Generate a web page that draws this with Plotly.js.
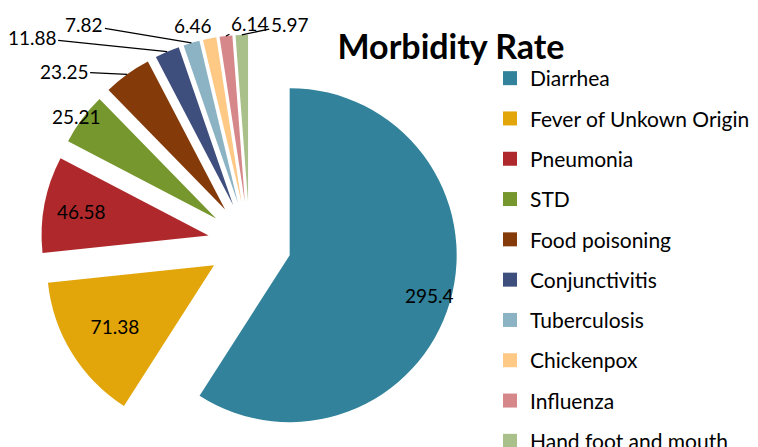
<!DOCTYPE html>
<html><head><meta charset="utf-8">
<script src="https://cdn.plot.ly/plotly-3.0.1.min.js"></script>
<style>html,body{margin:0;padding:0;overflow:hidden;background:#fff}
#wrap{width:758px;height:447px;overflow:hidden}</style>
</head><body><div id="wrap"><div id="chart"></div></div>
<script>
const categories = ['Diarrhea','Fever of Unkown Origin','Pneumonia','STD','Food poisoning','Conjunctivitis','Tuberculosis','Chickenpox','Influenza','Hand foot and mouth'];
const values = [295.4, 71.38, 46.58, 25.21, 23.25, 11.88, 7.82, 6.46, 6.14, 5.97];
const colors = ['#31829A','#E2A50A','#AF292C','#76962E','#843A09','#3E4E7D','#8CB3C3','#FDC985','#D5878A','#A9C08A'];

// layout constants (pixels)
const W = 758, H = 475;
const cx = 249.6, cy = 243.4, r = 167, pull = 0.25;
const ext = r * (1 + pull);
const domain = {x: [(cx - ext) / W, (cx + ext) / W], y: [1 - (cy + ext) / H, 1 - (cy - ext) / H]};

const textPositions = ['none','inside','inside','none','none','none','none','none','none','none'];
// label placement: radial distance (fraction of r, from true centre) plus pixel offset, leader line flag
const labelPlacement = {
  0: {rad: 1.12, dx: 0, dy: 0, line: false},
  3: {rad: 1.25, dx: -32, dy: -16, line: false},
  4: {rad: 1.25, dx: -63, dy: -3, line: true},
  5: {rad: 1.25, dx: -135, dy: -14, line: true},
  6: {rad: 1.25, dx: -107, dy: -18, line: true},
  7: {rad: 1.25, dx: -17, dy: -13, line: true},
  8: {rad: 1.25, dx: 24, dy: -12, line: true},
  9: {rad: 1.25, dx: 48, dy: -10, line: true}};

const labelFont = {family: 'Lato', size: 19, color: '#000'};
const total = values.reduce((a, b) => a + b, 0);
const annotations = [];
let cum = 0;
values.forEach((v, i) => {
  const mid = (cum + v / 2) / total * 2 * Math.PI;
  cum += v;
  const o = labelPlacement[i];
  if (!o) return;
  const px = cx + o.rad * r * Math.sin(mid), py = cy - o.rad * r * Math.cos(mid);
  const a = {x: px / W, y: 1 - py / H, xref: 'paper', yref: 'paper', text: String(v), font: labelFont};
  if (o.line) {
    Object.assign(a, {showarrow: true, ax: o.dx, ay: o.dy, arrowhead: 0, arrowwidth: 1.3, arrowcolor: '#000', standoff: 0});
  } else {
    Object.assign(a, {showarrow: false, xshift: o.dx, yshift: -o.dy});
  }
  annotations.push(a);
});

const pie = {type: 'pie', labels: categories, values: values, sort: false, direction: 'clockwise', rotation: 0,
  marker: {colors: colors, line: {width: 0}}, pull: pull, domain: domain,
  textinfo: 'value', textposition: textPositions, insidetextorientation: 'horizontal',
  textfont: labelFont, showlegend: false, hoverinfo: 'label+value'};

const legendTraces = categories.map((c, i) => ({type: 'scatter', x: [null], y: [null], mode: 'markers', name: c,
  legendgroup: 'g' + i, marker: {symbol: 'square', size: 14, color: colors[i]}, hoverinfo: 'skip'}));

const layout = {width: W, height: H, margin: {l: 0, r: 0, t: 0, b: 0}, paper_bgcolor: '#fff', plot_bgcolor: 'rgba(0,0,0,0)',
  xaxis: {visible: false}, yaxis: {visible: false}, showlegend: true,
  title: {text: '<b>Morbidity Rate</b>', x: 451 / W, xanchor: 'center', y: 1 - 47 / H, yanchor: 'middle', yref: 'container',
    font: {family: 'Lato', size: 34, color: '#000'}},
  legend: {x: 490 / W, xanchor: 'left', y: 1 - 58 / H, yanchor: 'top', tracegroupgap: 10, bgcolor: 'rgba(0,0,0,0)',
    font: {family: 'Lato', size: 21, color: '#000'}},
  annotations: annotations};

Plotly.newPlot('chart', [pie].concat(legendTraces), layout, {displayModeBar: false, staticPlot: true});
</script></body></html>
